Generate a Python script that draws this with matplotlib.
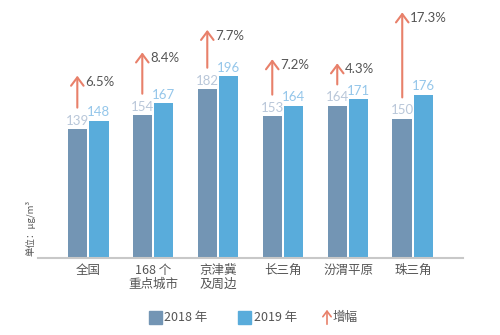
import matplotlib
matplotlib.use("Agg")
import matplotlib.pyplot as plt
from matplotlib.patches import Rectangle, FancyArrowPatch
import numpy as np

plt.rcParams['font.family'] = ['Noto Sans CJK SC', 'DejaVu Sans']

categories = ["全国", "168 个\n重点城市", "京津冀\n及周边", "长三角", "汾渭平原", "珠三角"]
values_2018 = [139, 154, 182, 153, 164, 150]
values_2019 = [148, 167, 196, 164, 171, 176]
growth_pct = [6.5, 8.4, 7.7, 7.2, 4.3, 17.3]
growth_labels = ["6.5%", "8.4%", "7.7%", "7.2%", "4.3%", "17.3%"]
legend_labels = ["2018 年", "2019 年", "增幅"]

c18 = "#7395b4"
c19 = "#59acdb"
c18_txt = "#b9c7d9"
c19_txt = "#94c6ea"
c_arrow = "#e8806a"
c_text = "#555555"

fig = plt.figure(figsize=(5.0, 3.35), dpi=100)
ax = fig.add_axes([0.076, 0.23, 0.85, 0.77])

x = np.arange(len(categories))
w = 0.30
off = 0.165
ax.bar(x - off, values_2018, width=w, color=c18)
ax.bar(x + off, values_2019, width=w, color=c19)

num_font = ['Lato', 'DejaVu Sans']
for xi, v in zip(x, values_2018):
    ax.text(xi - off, v + 2.5, str(v), ha='center', va='bottom', fontsize=9.5,
            color=c18_txt, family=num_font)
for xi, v in zip(x, values_2019):
    ax.text(xi + off, v + 2.5, str(v), ha='center', va='bottom', fontsize=9.5,
            color=c19_txt, family=num_font)

for xi, v, g, lab in zip(x, values_2018, growth_pct, growth_labels):
    y0 = v + 23
    y1 = y0 + g * 5.3
    ax.annotate("", xy=(xi - off, y1), xytext=(xi - off, y0),
                arrowprops=dict(arrowstyle="->,head_length=0.6,head_width=0.45",
                                color=c_arrow, lw=1.5, shrinkA=0, shrinkB=0))
    ax.text(xi - off + 0.12, y1 - 6.5, lab, ha='left', va='center', fontsize=9.5,
            color=c_text, family=num_font)

ax.set_xlim(-0.77, 5.77)
ax.set_ylim(0, 278)
ax.set_xticks(x)
ax.set_xticklabels(categories, fontsize=9, color=c_text, linespacing=1.15)
ax.tick_params(axis='x', length=0, pad=4)
ax.set_yticks([])
for s in ['left', 'right', 'top']:
    ax.spines[s].set_visible(False)
ax.spines['bottom'].set_color("#c8c8c8")
ax.spines['bottom'].set_linewidth(1.5)

fig.text(0.06, 0.235, "单位：μg/m³", rotation=90, ha='center', va='bottom',
         fontsize=6.8, color=c_text)

# legend
ly = 1 - 317 / 335
fig.add_artist(Rectangle((149 / 500, ly - 6.5 / 335), 13 / 500, 13 / 335,
                         transform=fig.transFigure, color=c18))
fig.text(164 / 500, ly, legend_labels[0], ha='left', va='center', fontsize=9, color=c_text)
fig.add_artist(Rectangle((238 / 500, ly - 6.5 / 335), 13 / 500, 13 / 335,
                         transform=fig.transFigure, color=c19))
fig.text(254 / 500, ly, legend_labels[1], ha='left', va='center', fontsize=9, color=c_text)
fig.add_artist(FancyArrowPatch((327 / 500, ly - 10 / 335), (327 / 500, ly + 10 / 335),
                               transform=fig.transFigure,
                               arrowstyle="->,head_length=4,head_width=3",
                               color=c_arrow, lw=1.2))
fig.text(333 / 500, ly, legend_labels[2], ha='left', va='center', fontsize=9, color=c_text)

fig.savefig("out.png", dpi=100)
